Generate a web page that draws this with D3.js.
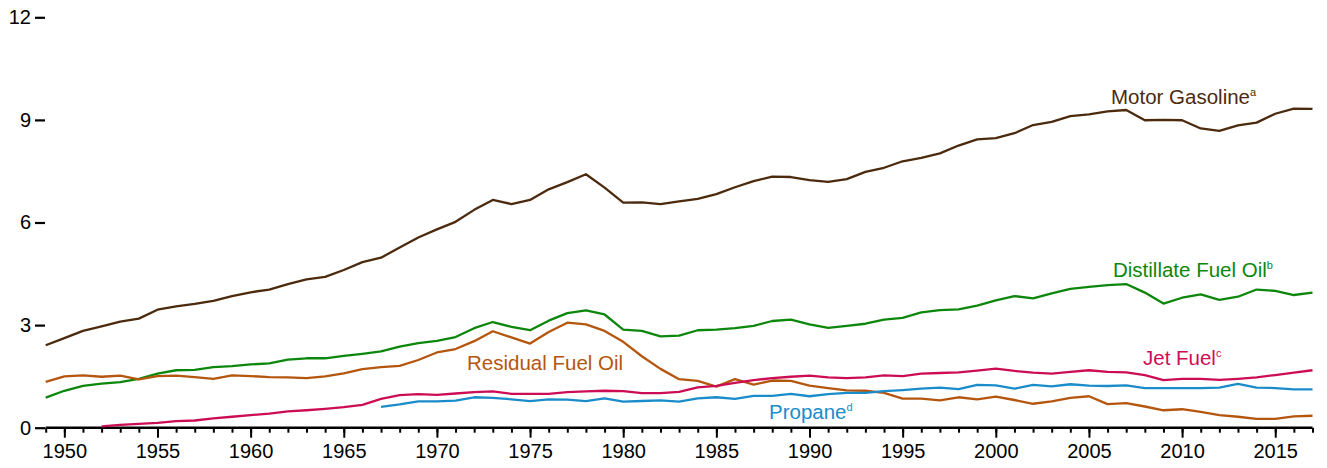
<!DOCTYPE html>
<html>
<head>
<meta charset="utf-8">
<script src="https://cdn.jsdelivr.net/npm/d3@7"></script>
<style>
html,body{margin:0;padding:0;background:#fff;}
svg{display:block;font-family:"Liberation Sans",Arial,sans-serif;}
</style>
</head>
<body>
<svg id="chart" width="1327" height="468"></svg>
<script>
// ---- data (million barrels per day) ----
const years = d3.range(1949, 2018);
const yTicks = [0, 3, 6, 9, 12];
const xTickLabels = [1950,1955,1960,1965,1970,1975,1980,1985,1990,1995,2000,2005,2010,2015];

const gasolineStart = 1949;
const gasoline = [
  2.41,2.62,2.83,2.96,3.10,3.19,3.45,3.55,3.62,3.71,3.85,
  3.96,4.04,4.20,4.34,4.41,4.61,4.84,4.97,5.27,5.56,
  5.80,6.02,6.37,6.66,6.54,6.66,6.97,7.18,7.41,7.02,
  6.58,6.59,6.54,6.62,6.69,6.83,7.03,7.21,7.34,7.33,
  7.24,7.19,7.27,7.48,7.60,7.79,7.89,8.02,8.25,8.43,
  8.47,8.61,8.85,8.94,9.11,9.16,9.25,9.29,8.99,9.00,
  8.99,8.75,8.68,8.84,8.92,9.18,9.33,9.32
];
const distillateStart = 1949;
const distillate = [
  0.88,1.08,1.22,1.29,1.33,1.43,1.58,1.68,1.69,1.77,1.80,
  1.85,1.88,1.99,2.03,2.03,2.10,2.16,2.23,2.37,2.47,
  2.54,2.65,2.91,3.09,2.95,2.85,3.13,3.35,3.43,3.31,
  2.87,2.83,2.67,2.69,2.85,2.87,2.91,2.98,3.12,3.16,
  3.02,2.92,2.98,3.04,3.16,3.21,3.37,3.44,3.46,3.57,
  3.72,3.85,3.78,3.93,4.06,4.12,4.17,4.20,3.95,3.63,
  3.80,3.90,3.74,3.83,4.04,4.00,3.88,3.95
];
const residualStart = 1949;
const residual = [
  1.34,1.50,1.53,1.49,1.52,1.41,1.51,1.52,1.48,1.43,1.53,
  1.51,1.48,1.47,1.45,1.50,1.59,1.71,1.77,1.81,1.98,
  2.20,2.30,2.53,2.82,2.64,2.46,2.80,3.07,3.02,2.83,
  2.51,2.09,1.72,1.42,1.37,1.20,1.42,1.26,1.38,1.37,
  1.23,1.16,1.09,1.08,1.02,0.85,0.85,0.80,0.89,0.83,
  0.91,0.81,0.70,0.77,0.87,0.92,0.69,0.72,0.62,0.51,
  0.54,0.46,0.37,0.32,0.26,0.26,0.33,0.35
];
const jetFuelStart = 1952;
const jetFuel = [
  0.04,0.08,0.11,0.14,0.19,0.21,0.27,0.32,
  0.37,0.41,0.48,0.51,0.55,0.60,0.67,0.84,0.95,0.98,
  0.96,1.00,1.04,1.06,0.99,0.99,0.99,1.04,1.06,1.08,
  1.07,1.01,1.01,1.05,1.18,1.22,1.31,1.39,1.45,1.49,
  1.52,1.47,1.45,1.47,1.53,1.51,1.58,1.60,1.62,1.67,
  1.73,1.66,1.61,1.58,1.63,1.68,1.63,1.62,1.54,1.39,
  1.43,1.43,1.40,1.43,1.47,1.54,1.61,1.68
];
const propaneStart = 1967;
const propane = [
  0.61,0.68,0.77,
  0.77,0.79,0.89,0.87,0.83,0.78,0.83,0.82,0.78,0.86,
  0.76,0.78,0.80,0.76,0.86,0.89,0.84,0.93,0.93,0.99,
  0.92,0.98,1.02,1.02,1.07,1.10,1.14,1.17,1.13,1.25,
  1.24,1.14,1.25,1.21,1.27,1.23,1.22,1.24,1.16,1.16,
  1.16,1.16,1.17,1.28,1.17,1.16,1.12,1.12
];

const seriesNames = ["Motor Gasoline","Distillate Fuel Oil","Residual Fuel Oil","Jet Fuel","Propane"];
const seriesSups = ["a","b","","c","d"];
const seriesColors = ["#4b2a0e","#0c870c","#b5560e","#cc0d55","#1a8cca"];

const series = [
  {start: gasolineStart, values: gasoline},
  {start: distillateStart, values: distillate},
  {start: residualStart, values: residual},
  {start: jetFuelStart, values: jetFuel},
  {start: propaneStart, values: propane}
];

// ---- layout ----
const svg = d3.select("#chart");
const x = d3.scaleLinear().domain([1949, 2017]).range([45.7, 1312.5]);
const y = d3.scaleLinear().domain([0, 12]).range([427.7, 17.3]);
const FONT = "'Liberation Sans',Arial,sans-serif";

// y axis (ticks + labels only)
const yAxis = svg.append("g").attr("transform", "translate(45,0)")
  .call(d3.axisLeft(y).tickValues(yTicks).tickSize(10).tickPadding(4).tickFormat(d3.format("d")));
yAxis.select(".domain").remove();
yAxis.selectAll("line").attr("stroke", "#000").attr("stroke-width", 2.2);
yAxis.selectAll("text").attr("font-size", 20).attr("fill", "#000").attr("font-family", FONT);

// x axis
const xAxisMinor = svg.append("g").attr("transform", "translate(0,427.7)")
  .call(d3.axisBottom(x).tickValues(years).tickSize(5).tickFormat(""));
xAxisMinor.select(".domain").attr("stroke", "#000").attr("stroke-width", 2.6)
  .attr("d", `M${x(1949)},0H${x(2017)}`);
xAxisMinor.selectAll(".tick line").attr("stroke", "#000").attr("stroke-width", 2);

const xAxisMajor = svg.append("g").attr("transform", "translate(0,427.7)")
  .call(d3.axisBottom(x).tickValues(xTickLabels).tickSize(10).tickPadding(6).tickFormat(d3.format("d")));
xAxisMajor.select(".domain").remove();
xAxisMajor.selectAll(".tick line").attr("stroke", "#000").attr("stroke-width", 2);
xAxisMajor.selectAll("text").attr("font-size", 20).attr("fill", "#000").attr("font-family", FONT);

// lines
const line = d3.line()
  .x(d => x(d[0]))
  .y(d => y(d[1]));

series.forEach((s, i) => {
  const pts = s.values.map((v, k) => [s.start + k, v]);
  svg.append("path")
    .datum(pts)
    .attr("fill", "none")
    .attr("stroke", seriesColors[i])
    .attr("stroke-width", 2.3)
    .attr("stroke-linejoin", "round")
    .attr("d", line);
});

// labels
const labelPos = [[1111, 104], [1113, 276.5], [467, 369.5], [1143, 364.5], [769, 418.5]];
seriesNames.forEach((name, i) => {
  const t = svg.append("text")
    .attr("x", labelPos[i][0]).attr("y", labelPos[i][1])
    .attr("fill", seriesColors[i])
    .attr("font-size", 20.5);
  t.append("tspan").text(name);
  if (seriesSups[i]) {
    t.append("tspan").attr("font-size", 11).attr("dy", -8).text(seriesSups[i]);
  }
});
</script>
</body>
</html>
